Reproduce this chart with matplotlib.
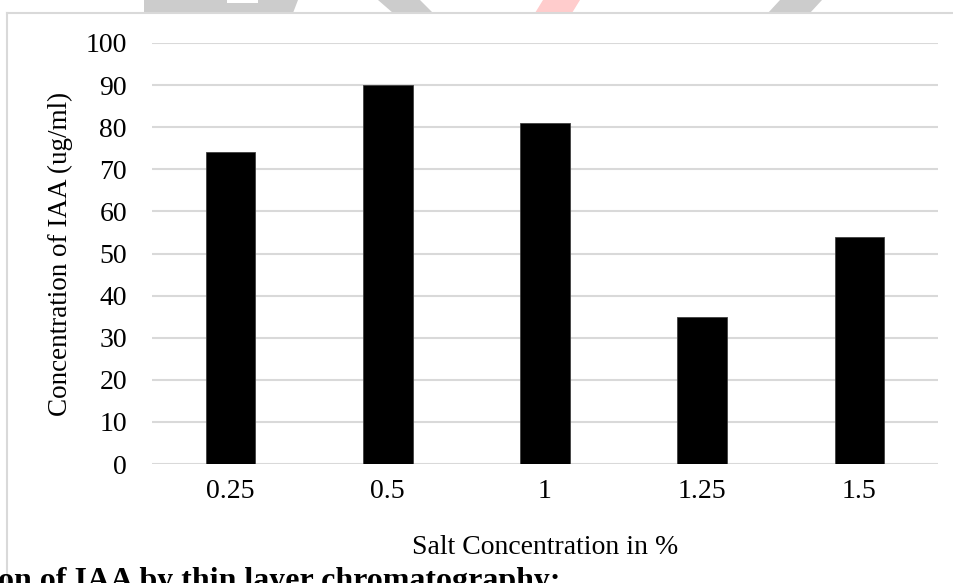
import matplotlib.pyplot as plt
from matplotlib.patches import Polygon
from matplotlib.lines import Line2D

salt = ['0.25', '0.5', '1', '1.25', '1.5']
iaa = [74, 90, 81, 35, 54]
yticks = list(range(0, 101, 10))

plt.rcParams['font.family'] = ['Liberation Serif', 'DejaVu Serif']

W, H = 954, 583
fig = plt.figure(figsize=(W / 100, H / 100), dpi=100)


def px(x, y):
    return (x / W, 1 - y / H)


# header banner shapes cut off at the top of the page
shapes = [
    ([(144, 0), (298, 0), (293, 13), (144, 13)], '#cccccc'),
    ([(227, 0), (258, 0), (258, 3), (227, 3)], 'white'),
    ([(378, 0), (420, 0), (433, 13), (393, 13)], '#cccccc'),
    ([(543, 0), (580, 0), (572, 13), (535, 13)], '#ffcccc'),
    ([(780, 0), (822, 0), (810, 13), (768, 13)], '#cccccc'),
]
for pts, c in shapes:
    fig.add_artist(Polygon([px(*p) for p in pts], closed=True,
                           transform=fig.transFigure, facecolor=c,
                           edgecolor='none'))

# chart frame
fig.add_artist(Line2D([7 / W, 1], [1 - 13 / H, 1 - 13 / H],
                      transform=fig.transFigure, color='#d9d9d9', lw=1.5))
fig.add_artist(Line2D([7 / W, 7 / W], [1 - 13 / H, 0],
                      transform=fig.transFigure, color='#d9d9d9', lw=1.5))

left, right, top, bottom = 152, 938, 43, 464
ax = fig.add_axes([left / W, 1 - bottom / H, (right - left) / W, (bottom - top) / H])

x = range(len(salt))
ax.bar(x, iaa, width=0.316, color='black', edgecolor='#404040', linewidth=0.6,
       zorder=3)

ax.set_xlim(-0.5, len(salt) - 0.5)
ax.set_ylim(0, 100)
ax.set_yticks(yticks)
ax.set_xticks(list(x))
ax.set_xticklabels(salt)
ax.grid(axis='y', color='#d9d9d9', lw=1.5, zorder=0)
for s in ax.spines.values():
    s.set_visible(False)
ax.tick_params(axis='both', length=0, labelsize=20)
ax.tick_params(axis='y', pad=18)
ax.tick_params(axis='x', pad=11)

ax.text(0.5, (bottom - 547) / (bottom - top), 'Salt Concentration in %',
        transform=ax.transAxes, ha='center', va='center', fontsize=20)
ax.text((60 - left) / (right - left), 0.5, 'Concentration of IAA (ug/ml)',
        transform=ax.transAxes, ha='center', va='center', rotation=90,
        fontsize=19.5)

fig.text(-2 / W, 1 - 567 / H, 'on of IAA by thin layer chromatography:',
         ha='left', va='top', fontsize=23, fontweight='bold')

fig.savefig('out.png', dpi=100)
